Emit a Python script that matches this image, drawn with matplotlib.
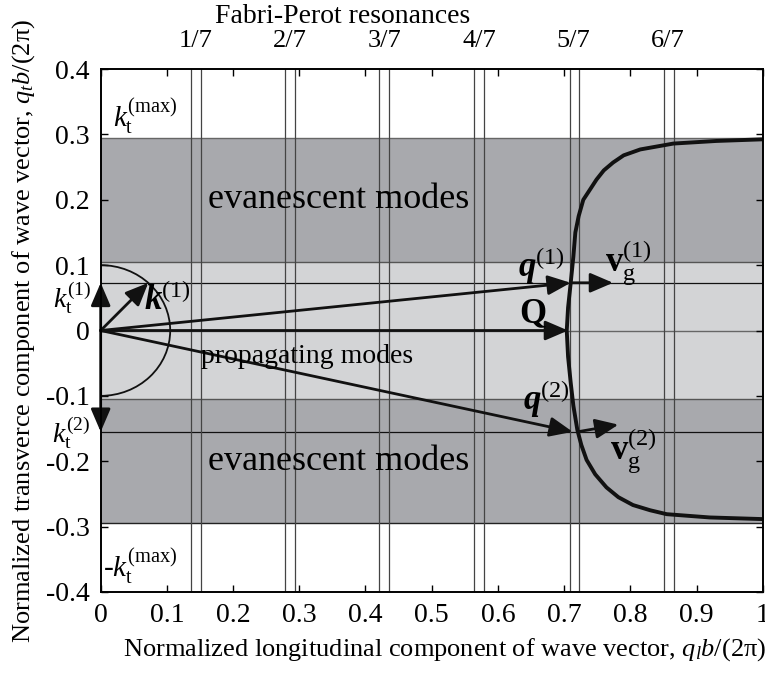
import matplotlib
matplotlib.use("Agg")
import matplotlib.pyplot as plt
from matplotlib.patches import Arc, FancyArrowPatch

plt.rcParams['font.family'] = ['Liberation Serif', 'DejaVu Serif']
plt.rcParams['mathtext.fontset'] = 'custom'
plt.rcParams['mathtext.rm'] = 'Liberation Serif'
plt.rcParams['mathtext.it'] = 'Liberation Serif:italic'
plt.rcParams['mathtext.bf'] = 'Liberation Serif:bold'
plt.rcParams['mathtext.bfit'] = 'Liberation Serif:bold:italic'
plt.rcParams['axes.unicode_minus'] = False

# ---- data ----
x_ticks = [0, 0.1, 0.2, 0.3, 0.4, 0.5, 0.6, 0.7, 0.8, 0.9, 1.0]
x_ticklabels = ["0", "0.1", "0.2", "0.3", "0.4", "0.5", "0.6", "0.7", "0.8", "0.9", "1"]
y_ticks = [-0.4, -0.3, -0.2, -0.1, 0, 0.1, 0.2, 0.3, 0.4]
y_ticklabels = ["-0.4", "-0.3", "-0.2", "-0.1", "0", "0.1", "0.2", "0.3", "0.4"]
res_pos = [1/7, 2/7, 3/7, 4/7, 5/7, 6/7]
res_labels = ["1/7", "2/7", "3/7", "4/7", "5/7", "6/7"]
res_lines = [0.136, 0.151, 0.278, 0.294, 0.421, 0.436, 0.564, 0.579, 0.709, 0.723, 0.851, 0.866]

kt_max = 0.295
prop_edge = 0.105
kt1 = 0.073
kt2 = -0.155

curve_x = [1.0, 0.93, 0.865, 0.815, 0.79, 0.774, 0.760, 0.749, 0.740, 0.729, 0.722, 0.717,
           0.714, 0.710, 0.706, 0.704, 0.706, 0.710, 0.714, 0.720, 0.726, 0.734, 0.747,
           0.764, 0.782, 0.804, 0.830, 0.855, 0.92, 1.0]
curve_y = [0.2925, 0.290, 0.286, 0.277, 0.268, 0.257, 0.245, 0.231, 0.217, 0.200, 0.175, 0.150,
           0.113, 0.073, 0.035, 0.0, -0.040, -0.080, -0.115, -0.152, -0.175, -0.198, -0.220,
           -0.240, -0.255, -0.267, -0.275, -0.281, -0.286, -0.2885]

k1_end = (0.072, 0.073)
q1_end = (0.710, 0.073)
Q_end = (0.706, 0.0)
q2_end = (0.713, -0.155)
vg1_end = (0.774, 0.073)
vg2_end = (0.782, -0.144)

# ---- figure ----
fig = plt.figure(figsize=(7.65, 6.77), dpi=100)
ax = fig.add_axes([0.1316, 0.1256, 0.8654, 0.7724])
ax.set_xlim(0, 1)
ax.set_ylim(-0.4, 0.4)

dark = '#a8a9ad'
light = '#d3d4d6'
ax.axhspan(prop_edge, kt_max, color=dark, lw=0, zorder=0)
ax.axhspan(-kt_max, -prop_edge, color=dark, lw=0, zorder=0)
ax.axhspan(-prop_edge, prop_edge, color=light, lw=0, zorder=0)

for yv, c in [(kt_max, '#666666'), (prop_edge, '#555555'), (-prop_edge, '#555555'),
              (-kt_max, '#222222'), (0, '#666666')]:
    ax.axhline(yv, color=c, lw=1.0, zorder=1)
ax.axhline(kt1, color='#111111', lw=0.9, zorder=1)
ax.axhline(kt2, color='#111111', lw=0.9, zorder=1)

for xv in res_lines:
    ax.axvline(xv, color='#444444', lw=0.9, zorder=1)

ax.plot(curve_x, curve_y, color='#111111', lw=2.8, zorder=3, solid_capstyle='butt')

arc = Arc((0, 0), 0.21, 0.2, theta1=-90, theta2=90, color='#111111', lw=1.3, zorder=2)
ax.add_patch(arc)

def arrow(p0, p1):
    a = FancyArrowPatch(p0, p1, arrowstyle='-|>,head_length=0.7,head_width=0.3',
                        mutation_scale=20, color='#111111', lw=2.0,
                        shrinkA=0, shrinkB=0, zorder=4, clip_on=False)
    ax.add_patch(a)

arrow((0, 0), (0, kt1))
arrow((0, 0), (0, kt2))
arrow((0, 0), k1_end)
arrow((0, 0), q1_end)
arrow((0, 0), Q_end)
arrow((0, 0), q2_end)
arrow(q1_end, vg1_end)
arrow((0.720, kt2), vg2_end)

# texts
ax.text(0.359, 0.2, "evanescent modes", fontsize=26, ha='center', va='center', zorder=5)
ax.text(0.359, -0.2, "evanescent modes", fontsize=26, ha='center', va='center', zorder=5)
ax.text(0.312, -0.04, "propagating modes", fontsize=20, ha='center', va='center', zorder=5)

ax.text(0.019, 0.327, r'$k_{\mathrm{t}}^{(\mathrm{max})}$', fontsize=21, ha='left', va='center')
ax.text(0.004, -0.361, r'-$k_{\mathrm{t}}^{(\mathrm{max})}$', fontsize=21, ha='left', va='center')
ax.text(-0.015, 0.05, r'$k_{\mathrm{t}}^{(1)}$', fontsize=20, ha='right', va='center', clip_on=False)
ax.text(-0.016, -0.156, r'$k_{\mathrm{t}}^{(2)}$', fontsize=20, ha='right', va='center', clip_on=False)
ax.text(0.066, 0.045, r'$\mathbfit{k}^{(1)}$', fontsize=25, ha='left', va='center', zorder=5)
ax.text(0.631, 0.099, r'$\mathbfit{q}^{(1)}$', fontsize=25, ha='left', va='center', zorder=5)
ax.text(0.652, 0.024, r'$\mathbf{Q}$', fontsize=25, ha='center', va='center', zorder=5)
ax.text(0.638, -0.104, r'$\mathbfit{q}^{(2)}$', fontsize=25, ha='left', va='center', zorder=5)
ax.text(0.762, 0.105, r'$\mathbf{v}_{\mathrm{g}}^{(1)}$', fontsize=25, ha='left', va='center', zorder=5)
ax.text(0.769, -0.183, r'$\mathbf{v}_{\mathrm{g}}^{(2)}$', fontsize=25, ha='left', va='center', zorder=5)

# axes styling
ax.set_xticks(x_ticks)
ax.set_xticklabels(x_ticklabels)
ax.set_yticks(y_ticks)
ax.set_yticklabels(y_ticklabels)
ax.tick_params(direction='in', top=True, right=True, length=5, width=1.0,
               labelsize=20, pad=8)
for s in ax.spines.values():
    s.set_linewidth(1.4)
    s.set_zorder(6)

sec = ax.secondary_xaxis('top')
sec.set_xticks(res_pos)
sec.set_xticklabels(res_labels)
sec.tick_params(length=0, labelsize=19, pad=12)
sec.spines['top'].set_visible(False)

ax.set_xlabel(r'Normalized longitudinal component of wave vector, $q_{l}b$/(2π)', fontsize=19)
ax.xaxis.set_label_coords(0.52, -0.085)
ax.set_ylabel(r'Normalized transverce component of wave vector, $q_{t}b$/(2π)', fontsize=19, labelpad=6)

fig.text(0.448, 0.975, "Fabri-Perot resonances", fontsize=20, ha='center', va='center')

fig.savefig("out.png", dpi=100)
